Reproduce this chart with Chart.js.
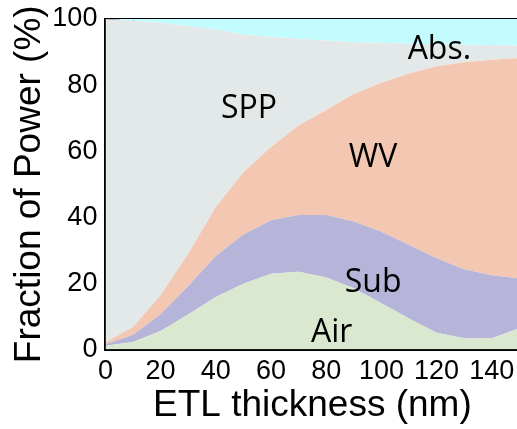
<!DOCTYPE html>
<html>
<head>
<meta charset="utf-8">
<title>Fraction of Power vs ETL thickness</title>
<script src="https://cdn.jsdelivr.net/npm/chart.js@4.4.1/dist/chart.umd.min.js"></script>
<style>
    html, body { margin: 0; padding: 0; background: #fff; overflow: hidden; }
    canvas { display: block; }
</style>
</head>
<body>
<canvas id="powerChart" width="520" height="429" style="width:520px;height:429px"></canvas>
<script>
// ETL thickness (nm) and the share of each channel (%), stacked bottom to top
const thickness = [0, 10, 20, 30, 40, 50, 60, 70, 80, 90, 100, 110, 120, 130, 140, 150];
const air = [1.1, 2.3, 5.6, 10.6, 15.9, 19.9, 22.9, 23.5, 21.8, 18.5, 14.0, 9.4, 5.1, 3.4, 3.4, 6.4];
const sub = [0.5, 2.2, 5.1, 8.6, 12.4, 14.9, 16.2, 17.2, 18.9, 20.2, 21.6, 22.2, 22.5, 20.9, 19.1, 15.1];
const wv = [0.5, 2.3, 5.7, 9.8, 14.8, 18.8, 22.2, 27.1, 31.8, 38.6, 45.1, 51.9, 58.1, 62.6, 65.2, 66.7];
const spp = [97.9, 92.7, 82.4, 68.9, 53.8, 41.6, 33.3, 26.2, 21.0, 15.7, 12.1, 9.0, 6.6, 5.3, 4.4, 3.8];
const abs = [0, 0.5, 1.2, 2.1, 3.1, 4.8, 5.4, 6.0, 6.5, 7.0, 7.2, 7.5, 7.7, 7.8, 7.9, 8.0];

const seriesNames = ['Air', 'Sub', 'WV', 'SPP', 'Abs.'];
const xTicks = [0, 10, 20, 30, 40, 50, 60, 70, 80, 90, 100, 110, 120, 130, 140, 150];
const yTicks = [0, 10, 20, 30, 40, 50, 60, 70, 80, 90, 100];

// Labels written inside the areas (data coordinates)
const areaLabels = [
    { text: 'SPP', x: 52, y: 70 },
    { text: 'Abs.', x: 121, y: 87.8 },
    { text: 'WV', x: 97, y: 55.3 },
    { text: 'Sub', x: 97, y: 17.5 },
    { text: 'Air', x: 82, y: 2.4 }
];

const fillColors = ['rgb(219, 232, 208)', 'rgb(182, 181, 217)', 'rgb(243, 199, 178)', 'rgb(227, 233, 233)', 'rgb(195, 252, 255)'];

function points(values) {
    return thickness.map((t, i) => ({ x: t, y: values[i] }));
}

const labelPlugin = {
    id: 'areaLabels',
    afterDraw(chart) {
        const ctx = chart.ctx;
        const x = chart.scales.x, y = chart.scales.y;
        ctx.save();
        ctx.fillStyle = '#000';
        ctx.font = '32px "Open Sans"';
        ctx.textAlign = 'center';
        ctx.textBaseline = 'alphabetic';
        areaLabels.forEach(l => {
            ctx.fillText(l.text, x.getPixelForValue(l.x), y.getPixelForValue(l.y));
        });
        ctx.restore();
    }
};

const tickFont = { family: '"Liberation Sans", Arial, sans-serif', size: 27 };
const titleFont = { family: '"Liberation Sans", Arial, sans-serif', size: 37 };
const frameBorder = { display: true, color: '#000', width: 2 };
// negative tick length turns the tick marks inward
const inwardGrid = { display: true, drawOnChartArea: false, drawTicks: true, tickLength: -6, tickWidth: 1.5, tickColor: '#000' };
const everyTen = list => s => { s.ticks = list.map(v => ({ value: v })); };
const majorOnly = v => (v % 20 === 0 && v < 150 ? v : '');

new Chart(document.getElementById('powerChart'), {
    type: 'line',
    data: {
        datasets: [air, sub, wv, spp, abs].map((values, i) => ({
            label: seriesNames[i],
            data: points(values),
            backgroundColor: fillColors[i],
            borderWidth: 0,
            pointRadius: 0,
            tension: 0,
            fill: i === 0 ? 'origin' : '-1'
        }))
    },
    options: {
        responsive: false,
        animation: false,
        layout: { padding: { top: 19, right: 0.6, left: 0, bottom: 0 } },
        plugins: { legend: { display: false }, tooltip: { enabled: false } },
        scales: {
            x: {
                type: 'linear',
                min: 0,
                max: 150,
                z: 1,
                afterBuildTicks: everyTen(xTicks),
                afterFit: s => { s.height = 79.5; s.paddingLeft = 0; s.paddingRight = 0; },
                grid: inwardGrid,
                border: frameBorder,
                ticks: { font: tickFont, color: '#000', padding: 12, maxRotation: 0, autoSkip: false, callback: majorOnly },
                title: { display: true, text: 'ETL thickness (nm)', font: titleFont, color: '#000', padding: { top: 0, bottom: 0.8 } }
            },
            x2: {
                type: 'linear',
                position: 'top',
                min: 0,
                max: 150,
                z: 1,
                afterBuildTicks: everyTen(xTicks),
                afterFit: s => { s.height = 0; s.paddingLeft = 0; s.paddingRight = 0; },
                grid: Object.assign({}, inwardGrid, { tickLength: -5 }),
                border: frameBorder,
                ticks: { display: false }
            },
            y: {
                stacked: true,
                min: 0,
                max: 100,
                z: 1,
                afterBuildTicks: everyTen(yTicks),
                afterFit: s => { s.width = 105.4; s.paddingTop = 0; s.paddingBottom = 0; },
                grid: inwardGrid,
                border: frameBorder,
                ticks: { font: tickFont, color: '#000', padding: 14, autoSkip: false, callback: majorOnly },
                title: { display: true, text: 'Fraction of Power (%)', font: titleFont, color: '#000', padding: { top: 7.2, bottom: 0 } }
            },
            y2: {
                position: 'right',
                min: 0,
                max: 100,
                z: 1,
                afterBuildTicks: everyTen(yTicks),
                afterFit: s => { s.width = 0; s.paddingTop = 0; s.paddingBottom = 0; },
                grid: Object.assign({}, inwardGrid, { tickLength: -7 }),
                border: frameBorder,
                ticks: { display: false }
            }
        }
    },
    plugins: [labelPlugin]
});
</script>
</body>
</html>
